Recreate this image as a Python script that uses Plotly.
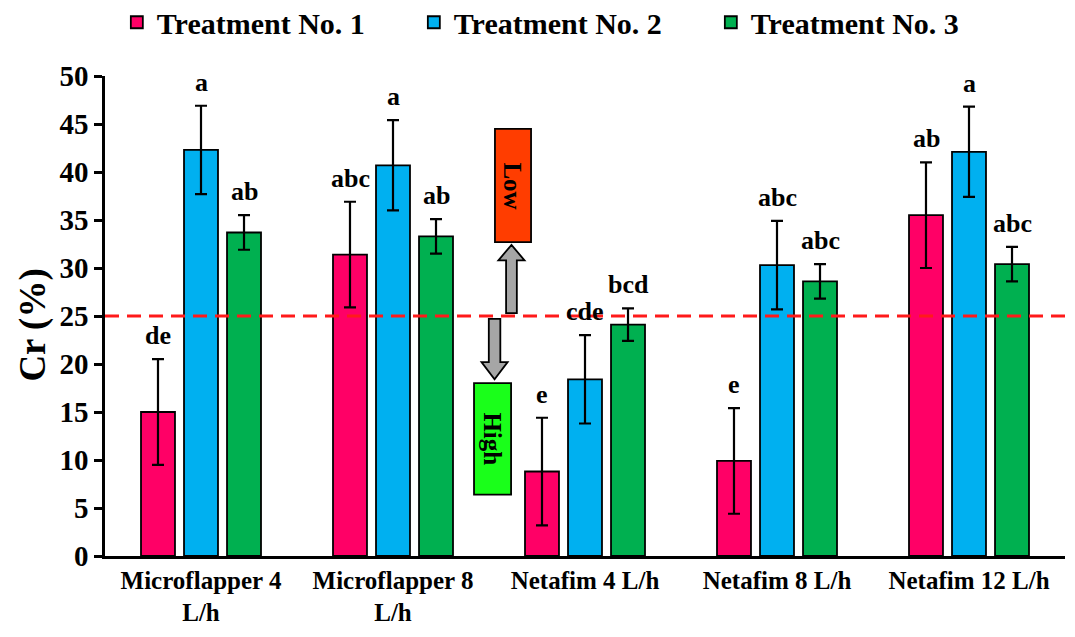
import plotly.graph_objects as go

categories = ["Microflapper 4 L/h", "Microflapper 8 L/h", "Netafim 4 L/h", "Netafim 8 L/h", "Netafim 12 L/h"]
tick_labels = ["Microflapper 4<br>L/h", "Microflapper 8<br>L/h", "Netafim 4 L/h", "Netafim 8 L/h", "Netafim 12 L/h"]

t1_values = [15.0, 31.4, 8.8, 9.9, 35.5]
t1_errors = [5.5, 5.5, 5.6, 5.5, 5.5]
t1_letters = ["de", "abc", "e", "e", "ab"]

t2_values = [42.3, 40.7, 18.4, 30.3, 42.1]
t2_errors = [4.6, 4.7, 4.6, 4.6, 4.7]
t2_letters = ["a", "a", "cde", "abc", "a"]

t3_values = [33.7, 33.3, 24.1, 28.6, 30.4]
t3_errors = [1.8, 1.8, 1.7, 1.8, 1.8]
t3_letters = ["ab", "ab", "bcd", "abc", "abc"]

series_names = ["Treatment No. 1", "Treatment No. 2", "Treatment No. 3"]
y_title = "Cr (%)"
threshold = 25

FONT = "Liberation Serif"
colors = ["#FF0066", "#00B0F0", "#00B050"]

fig = go.Figure()
all_vals = [t1_values, t2_values, t3_values]
all_errs = [t1_errors, t2_errors, t3_errors]
all_letters = [t1_letters, t2_letters, t3_letters]

for name, vals, errs, col in zip(series_names, all_vals, all_errs, colors):
    fig.add_trace(go.Bar(
        x=categories, y=vals, name=name,
        marker=dict(color=col, line=dict(color="black", width=1.8)),
        error_y=dict(type="data", array=errs, visible=True, color="black", thickness=2.2, width=6),
    ))

shifts = [-43, 0, 43]
for vals, errs, letters, sh in zip(all_vals, all_errs, all_letters, shifts):
    for c, v, e, l in zip(categories, vals, errs, letters):
        fig.add_annotation(x=c, y=v + e, text=l, showarrow=False, xshift=sh, yshift=7,
                           yanchor="bottom", font=dict(family=FONT, size=26, color="black", weight="bold"))

# y axis title as rotated text
fig.add_annotation(xref="paper", yref="paper", x=-0.075, y=0.48, text=y_title, textangle=-90,
                   showarrow=False, xanchor="center", yanchor="middle",
                   font=dict(family=FONT, size=37, color="black", weight="bold"))

# threshold line
fig.add_shape(type="line", xref="paper", yref="y", x0=0, x1=1.006, y0=threshold, y1=threshold,
              line=dict(color="#FF1A1A", width=3, dash="14px,8px"))

# Low / High boxes
fig.add_shape(type="rect", xref="x", yref="y", x0=1.531, x1=1.719, y0=32.7, y1=44.5,
              fillcolor="#FF3D00", line=dict(color="black", width=1.8))
fig.add_shape(type="rect", xref="x", yref="y", x0=1.422, x1=1.615, y0=6.4, y1=18.0,
              fillcolor="#1AFF1A", line=dict(color="black", width=1.8))
fig.add_annotation(x=1.625, y=38.6, text="Low", textangle=90, showarrow=False,
                   font=dict(family=FONT, size=25, color="black", weight="bold"))
fig.add_annotation(x=1.518, y=12.2, text="High", textangle=90, showarrow=False,
                   font=dict(family=FONT, size=25, color="black", weight="bold"))

# arrows
def up_arrow(cx, ybot, yhead, ytip, sw, hw):
    return (f"M {cx-sw} {ybot} L {cx-sw} {yhead} L {cx-hw} {yhead} L {cx} {ytip} "
            f"L {cx+hw} {yhead} L {cx+sw} {yhead} L {cx+sw} {ybot} Z")

fig.add_shape(type="path", xref="x", yref="y",
              path=up_arrow(1.617, 25.3, 30.8, 32.4, 0.028, 0.068),
              fillcolor="#A6A6A6", line=dict(color="black", width=1.8))
fig.add_shape(type="path", xref="x", yref="y",
              path=up_arrow(1.529, 24.7, 20.2, 18.4, 0.03, 0.068),
              fillcolor="#A6A6A6", line=dict(color="black", width=1.8))

fig.update_layout(
    width=1067, height=629,
    margin=dict(l=97, r=10, t=68, b=81, autoexpand=False),
    plot_bgcolor="white", paper_bgcolor="white",
    barmode="group", bargap=0.328, bargroupgap=0.21,
    font=dict(family=FONT, color="black", size=20, weight="bold"),
    legend=dict(orientation="h", xref="container", yref="paper", x=0.102, y=1.112,
                xanchor="left", yanchor="middle",
                font=dict(family=FONT, size=30, color="black", weight="bold"),
                itemwidth=30, tracegroupgap=0, entrywidth=252, entrywidthmode="pixels"),
    showlegend=True,
)
fig.update_xaxes(tickvals=categories, ticktext=tick_labels, showline=True, linecolor="black",
                 linewidth=2.5, ticks="", tickfont=dict(family=FONT, size=25, weight="bold"),
                 range=[-0.5, 4.5], automargin=False)
fig.update_yaxes(range=[0, 50], dtick=5, showline=True, linecolor="black", linewidth=2.5,
                 ticks="outside", ticklen=8, tickwidth=2.5, tickcolor="black", showgrid=False,
                 zeroline=False, tickfont=dict(family=FONT, size=29, weight="bold"), automargin=False)

fig.write_html("out.html")
